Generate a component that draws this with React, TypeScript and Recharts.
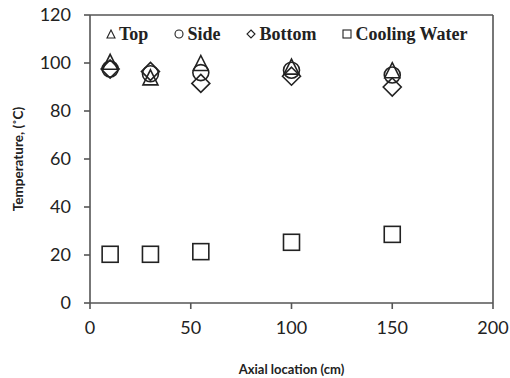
import React from "react";
import {
  ScatterChart,
  Scatter,
  XAxis,
  YAxis,
  ReferenceLine,
  Legend,
} from "recharts";

const axialLocation = [10, 30, 55, 100, 150];
const topTemp = [100.5, 94, 100, 98.5, 97];
const sideTemp = [97.5, 95.5, 96, 97, 95];
const bottomTemp = [97.5, 96.5, 91.5, 94.5, 90];
const coolingTemp = [20.3, 20.3, 21.4, 25.3, 28.6];

const xTicks = [0, 50, 100, 150, 200];
const yTicks = [0, 20, 40, 60, 80, 100, 120];

const toPoints = (ys: number[]) => axialLocation.map((x, i) => ({ x, y: ys[i] }));

const INK = "#222";
const AXIS = "#555";

function Triangle({ cx, cy }: any) {
  const h = 15;
  const w = 15;
  return (
    <path
      d={`M${cx},${cy - h / 2} L${cx + w / 2},${cy + h / 2} L${cx - w / 2},${cy + h / 2} Z`}
      fill="none"
      stroke={INK}
      strokeWidth={1.6}
    />
  );
}

function Circle({ cx, cy }: any) {
  return <circle cx={cx} cy={cy} r={8} fill="none" stroke={INK} strokeWidth={1.6} />;
}

function Diamond({ cx, cy }: any) {
  const r = 9;
  return (
    <path
      d={`M${cx},${cy - r} L${cx + r},${cy} L${cx},${cy + r} L${cx - r},${cy} Z`}
      fill="none"
      stroke={INK}
      strokeWidth={1.6}
    />
  );
}

function Square({ cx, cy }: any) {
  return (
    <rect x={cx - 8} y={cy - 8} width={16} height={16} fill="none" stroke={INK} strokeWidth={1.6} />
  );
}

const legendItems = [
  { name: "Top", mark: "tri" },
  { name: "Side", mark: "circ" },
  { name: "Bottom", mark: "dia" },
  { name: "Cooling Water", mark: "sq" },
];

function LegendMark({ mark }: { mark: string }) {
  return (
    <svg width={10} height={10} style={{ marginRight: 3 }}>
      {mark === "tri" && <path d="M5,1 L9,9 L1,9 Z" fill="none" stroke={INK} strokeWidth={1.1} />}
      {mark === "circ" && <circle cx={5} cy={5} r={4} fill="none" stroke={INK} strokeWidth={1.1} />}
      {mark === "dia" && <path d="M5,1 L9,5 L5,9 L1,5 Z" fill="none" stroke={INK} strokeWidth={1.1} />}
      {mark === "sq" && <rect x={1} y={1} width={8} height={8} fill="none" stroke={INK} strokeWidth={1.1} />}
    </svg>
  );
}

function LegendContent() {
  return (
    <div
      style={{
        display: "flex",
        gap: 26,
        fontFamily: "'Liberation Serif', serif",
        fontWeight: "bold",
        fontSize: 18,
        lineHeight: "20px",
        color: INK,
      }}
    >
      {legendItems.map((it) => (
        <div key={it.name} style={{ display: "flex", alignItems: "center" }}>
          <LegendMark mark={it.mark} />
          <span>{it.name}</span>
        </div>
      ))}
    </div>
  );
}

export default function App() {
  return (
    <div style={{ position: "absolute", left: 0, top: 0, background: "#fff" }}>
      <ScatterChart width={510} height={378} margin={{ top: 15, right: 17, bottom: 0, left: 0 }}>
        <XAxis
          type="number"
          dataKey="x"
          domain={[0, 200]}
          ticks={xTicks}
          height={75}
          stroke={AXIS}
          strokeWidth={1.6}
          tickSize={6}
          tickMargin={12}
          tick={{ fill: INK, fontSize: 18, fontFamily: "Lato, sans-serif" }}
          label={{
            value: "Axial location (cm)",
            position: "insideBottom",
            offset: 4,
            style: { fontFamily: "Lato, sans-serif", fontWeight: "bold", fontSize: 13, fill: INK },
          }}
        />
        <YAxis
          type="number"
          dataKey="y"
          domain={[0, 120]}
          ticks={yTicks}
          width={90}
          stroke={AXIS}
          strokeWidth={1.6}
          tickSize={6}
          tickMargin={13}
          tick={{ fill: INK, fontSize: 18, fontFamily: "Lato, sans-serif" }}
          label={{
            content: () => (
              <text
                x={20}
                y={159}
                transform="rotate(-90 20 159)"
                textAnchor="middle"
                dominantBaseline="middle"
                style={{ fontFamily: "Lato, sans-serif", fontWeight: "bold", fontSize: 13.5, fill: INK }}
              >
                Temperature, (˚C)
              </text>
            ),
          }}
        />
        <ReferenceLine y={120} stroke={AXIS} strokeWidth={1.6} />
        <ReferenceLine x={200} stroke={AXIS} strokeWidth={1.6} />
        <Legend
          verticalAlign="middle"
          layout="horizontal"
          content={() => <LegendContent />}
          wrapperStyle={{ top: 24, left: 106, width: "auto" }}
        />
        <Scatter name="Top" data={toPoints(topTemp)} shape={Triangle} isAnimationActive={false} />
        <Scatter name="Side" data={toPoints(sideTemp)} shape={Circle} isAnimationActive={false} />
        <Scatter name="Bottom" data={toPoints(bottomTemp)} shape={Diamond} isAnimationActive={false} />
        <Scatter name="Cooling Water" data={toPoints(coolingTemp)} shape={Square} isAnimationActive={false} />
      </ScatterChart>
    </div>
  );
}
